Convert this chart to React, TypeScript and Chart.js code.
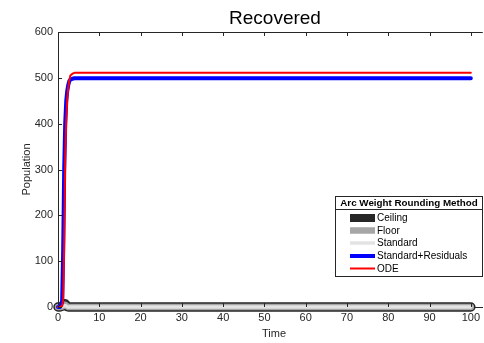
import { useEffect, useRef } from "react";
import { Chart, registerables } from "chart.js";
Chart.register(...registerables);

const chartTitle = "Recovered";
const xAxisTitle = "Time";
const yAxisTitle = "Population";
const legendTitle = "Arc Weight Rounding Method";

const timePoints = [0, 0.5, 1, 1.25, 1.5, 1.75, 2, 2.25, 2.5, 2.75, 3, 3.5, 4, 5, 10, 20, 30, 40, 50, 60, 70, 80, 90, 100];
const ceilingValues = [0, 0, 2, 4, 7, 7, 4, 1, 0, 0, 0, 0, 0, 0, 0, 0, 0, 0, 0, 0, 0, 0, 0, 0];
const floorValues = [0, 0, 1, 3, 5, 5, 3, 1, 0, 0, 0, 0, 0, 0, 0, 0, 0, 0, 0, 0, 0, 0, 0, 0];
const standardValues = [0, 0, 1, 2, 3, 3, 2, 0, 0, 0, 0, 0, 0, 0, 0, 0, 0, 0, 0, 0, 0, 0, 0, 0];
const residualValues = [0, 0, 10, 120, 300, 400, 450, 472, 485, 493, 496, 498, 499, 499, 499, 499, 499, 499, 499, 499, 499, 499, 499, 499];
const odeValues = [0, 0, 2, 15, 140, 330, 410, 455, 480, 495, 505, 509, 511, 511, 511, 511, 511, 511, 511, 511, 511, 511, 511, 511];

const seriesNames = ["Ceiling", "Floor", "Standard", "Standard+Residuals", "ODE"];
const seriesColors = ["#262626", "#a6a6a6", "#e3e3e3", "#0000ff", "#ff0000"];
const seriesWidths = [9.5, 6.5, 3.5, 4, 2];
const seriesValues = [ceilingValues, floorValues, standardValues, residualValues, odeValues];

const xTicks = [0, 10, 20, 30, 40, 50, 60, 70, 80, 90, 100];
const yTicks = [0, 100, 200, 300, 400, 500, 600];

const FONT = "'Liberation Sans', Arial, Helvetica, sans-serif";
const AXIS = "#262626";

const framePlugin = {
  id: "frame",
  afterDraw(chart: any) {
    const { ctx, chartArea: a, scales } = chart;
    const xs = scales.x;
    const ys = scales.y;
    ctx.save();
    ctx.strokeStyle = AXIS;
    ctx.lineWidth = 1;
    // top border
    ctx.beginPath();
    ctx.moveTo(a.left, Math.round(a.top) + 0.5);
    ctx.lineTo(a.right, Math.round(a.top) + 0.5);
    ctx.stroke();
    // inward ticks
    ctx.beginPath();
    for (const v of xTicks) {
      const px = Math.round(xs.getPixelForValue(v)) + 0.5;
      ctx.moveTo(px, a.bottom);
      ctx.lineTo(px, a.bottom - 4);
      ctx.moveTo(px, a.top);
      ctx.lineTo(px, a.top + 4);
    }
    for (const v of yTicks) {
      const py = Math.round(ys.getPixelForValue(v)) + 0.5;
      ctx.moveTo(a.left, py);
      ctx.lineTo(a.left + 4, py);
    }
    ctx.stroke();

    // titles
    ctx.fillStyle = "#000";
    ctx.font = `19px ${FONT}`;
    ctx.textAlign = "center";
    ctx.textBaseline = "alphabetic";
    ctx.fillText(chartTitle, 275, 24);
    ctx.fillStyle = AXIS;
    ctx.font = `11px ${FONT}`;
    ctx.fillText(xAxisTitle, 274, 337);
    ctx.save();
    ctx.translate(30, 169.5);
    ctx.rotate(-Math.PI / 2);
    ctx.fillText(yAxisTitle, 0, 0);
    ctx.restore();

    // legend
    const L = 335.5, R = 482.5, T = 196.5, B = 276.5;
    ctx.fillStyle = "#fff";
    ctx.fillRect(L, T, R - L, B - T);
    ctx.strokeStyle = AXIS;
    ctx.strokeRect(L, T, R - L, B - T);
    ctx.beginPath();
    ctx.moveTo(L, 209.5);
    ctx.lineTo(R, 209.5);
    ctx.stroke();
    ctx.fillStyle = "#000";
    ctx.font = `bold 9.8px ${FONT}`;
    ctx.textAlign = "center";
    ctx.textBaseline = "middle";
    ctx.fillText(legendTitle, (L + R) / 2, 203);
    ctx.font = `10px ${FONT}`;
    ctx.textAlign = "left";
    const rows = [218, 230.5, 243, 256, 268.5];
    seriesNames.forEach((name, i) => {
      ctx.strokeStyle = seriesColors[i];
      ctx.lineWidth = Math.min(seriesWidths[i], 8);
      ctx.lineCap = "butt";
      ctx.beginPath();
      ctx.moveTo(350, rows[i]);
      ctx.lineTo(375, rows[i]);
      ctx.stroke();
      ctx.fillStyle = "#000";
      ctx.fillText(name, 377, rows[i] + 0.5);
    });
    ctx.restore();
  },
};

export default function App() {
  const ref = useRef<HTMLCanvasElement>(null);
  useEffect(() => {
    if (!ref.current) return;
    const datasets = seriesNames.map((name, i) => ({
      label: name,
      data: timePoints.map((t, k) => ({ x: t, y: seriesValues[i][k] })),
      borderColor: seriesColors[i],
      backgroundColor: seriesColors[i],
      borderWidth: seriesWidths[i],
      pointRadius: 0,
      fill: false,
      tension: 0,
      clip: false as any,
      borderJoinStyle: "round" as const,
      borderCapStyle: "round" as const,
      order: seriesNames.length - i,
    }));
    const chart = new Chart(ref.current, {
      type: "line",
      data: { datasets },
      plugins: [framePlugin],
      options: {
        animation: false,
        responsive: false,
        devicePixelRatio: 1,
        layout: { padding: { left: 0, top: 32, right: 0, bottom: 0 } },
        plugins: { legend: { display: false }, tooltip: { enabled: false }, title: { display: false } },
        scales: {
          x: {
            type: "linear",
            min: 0,
            max: 102.9,
            grid: { display: false, drawTicks: false },
            border: { display: true, color: AXIS, width: 1 },
            ticks: {
              stepSize: 10,
              includeBounds: false,
              color: AXIS,
              padding: 4,
              maxRotation: 0,
              font: { family: FONT, size: 11 },
            },
            afterFit: (s: any) => { s.height = 36; },
          },
          y: {
            type: "linear",
            min: 0,
            max: 600,
            grid: { display: false, drawTicks: false },
            border: { display: true, color: AXIS, width: 1 },
            ticks: {
              stepSize: 100,
              color: AXIS,
              padding: 5,
              font: { family: FONT, size: 11 },
            },
            afterFit: (s: any) => { s.width = 58; },
          },
        },
      },
    });
    return () => chart.destroy();
  }, []);
  return (
    <div style={{ position: "absolute", left: 0, top: 0, width: 484, height: 343, background: "#fff" }}>
      <canvas ref={ref} width={484} height={343} style={{ display: "block" }} />
    </div>
  );
}
